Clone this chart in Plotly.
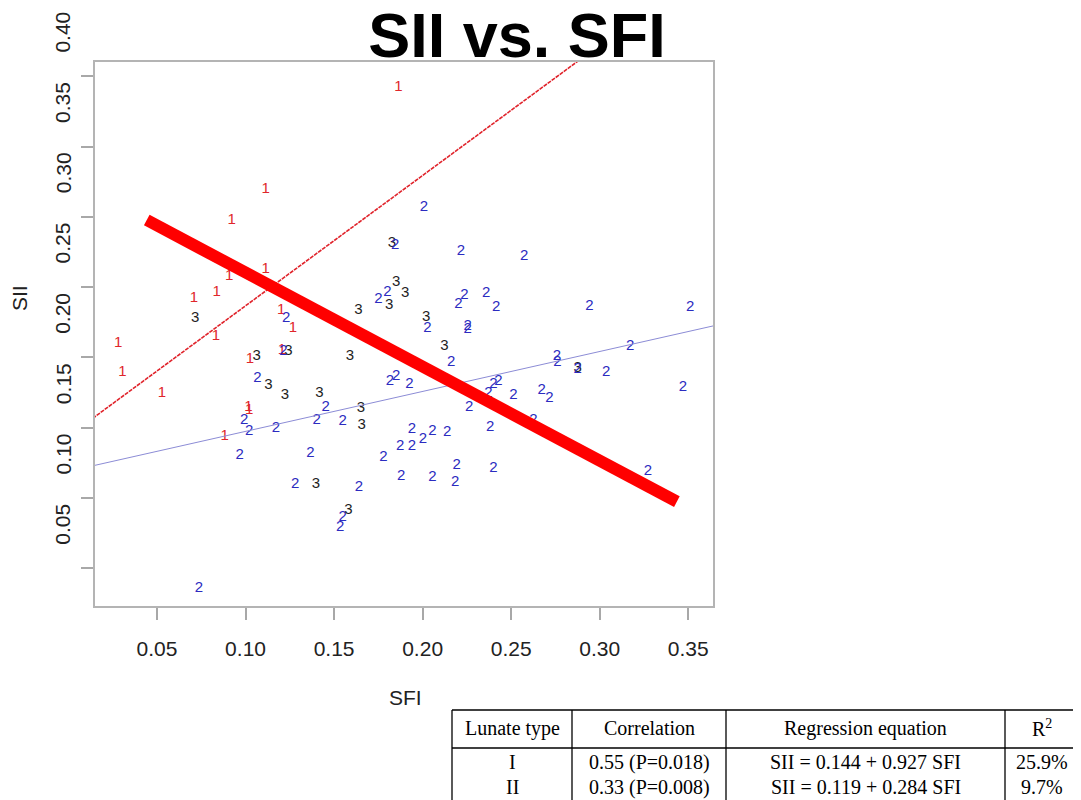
import plotly.graph_objects as go

# ---------------- data ----------------
type1_sfi = [0.1863, 0.1114, 0.0922, 0.1114, 0.0908, 0.0837, 0.0709, 0.1201, 0.1267,
             0.0832, 0.0281, 0.0304, 0.0527, 0.1025, 0.1016, 0.1021, 0.0882, 0.1206]
type1_sii = [0.3925, 0.3198, 0.2977, 0.2627, 0.2574, 0.2460, 0.2420, 0.2337, 0.2207,
             0.2147, 0.2100, 0.1898, 0.1745, 0.1986, 0.1645, 0.1626, 0.1436, 0.2053]

type2_sfi = [0.1845, 0.1750, 0.1801, 0.1229, 0.1214, 0.1067, 0.1453, 0.1402, 0.1549,
             0.0992, 0.1021, 0.1172, 0.0967, 0.1366, 0.1779, 0.1873, 0.1879, 0.1280,
             0.1640, 0.1549, 0.1534, 0.0737, 0.1816, 0.1850, 0.2008, 0.2216, 0.2573,
             0.2236, 0.2202, 0.2359, 0.2415, 0.2942, 0.3511, 0.2027, 0.2255, 0.2255,
             0.2161, 0.2758, 0.2762, 0.2875, 0.3037, 0.3172, 0.3470, 0.1925, 0.2400,
             0.2428, 0.2372, 0.2513, 0.2673, 0.2716, 0.2263, 0.2626, 0.2381, 0.1939,
             0.2055, 0.2138, 0.2001, 0.1939, 0.2193, 0.2184, 0.2400, 0.2055, 0.3272]
type2_sii = [0.2799, 0.2413, 0.2467, 0.2278, 0.2041, 0.1851, 0.1645, 0.1550, 0.1543,
             0.1555, 0.1472, 0.1496, 0.1301, 0.1318, 0.1289, 0.1365, 0.1152, 0.1100,
             0.1076, 0.0863, 0.0792, 0.0358, 0.1827, 0.1863, 0.3065, 0.2757, 0.2723,
             0.2444, 0.2378, 0.2456, 0.2356, 0.2366, 0.2356, 0.2207, 0.2225, 0.2200,
             0.1965, 0.2005, 0.1969, 0.1918, 0.1891, 0.2076, 0.1787, 0.1809, 0.1809,
             0.1834, 0.1745, 0.1733, 0.1768, 0.1709, 0.1645, 0.1555, 0.1503, 0.1491,
             0.1472, 0.1467, 0.1418, 0.1365, 0.1235, 0.1109, 0.1211, 0.1147, 0.1187]

type3_sfi = [0.0715, 0.1826, 0.1850, 0.1901, 0.1811, 0.1637, 0.1063, 0.1242, 0.1590,
             0.1129, 0.1223, 0.1417, 0.1651, 0.1656, 0.1398, 0.1581, 0.2020, 0.2123, 0.2875]
type3_sii = [0.2280, 0.2812, 0.2538, 0.2456, 0.2373, 0.2332, 0.2010, 0.2041, 0.2010,
             0.1804, 0.1733, 0.1745, 0.1642, 0.1514, 0.1100, 0.0915, 0.2285, 0.2081, 0.1922]

# regression lines (from the table)
reg_intercept = [0.144, 0.119]
reg_slope = [0.927, 0.284]

# hand-drawn overall trend line
trend_sfi = [0.0442, 0.3436]
trend_sii = [0.2977, 0.0974]

tick_vals = [0.05, 0.10, 0.15, 0.20, 0.25, 0.30, 0.35, 0.40]
x_tick_vals = [0.05, 0.10, 0.15, 0.20, 0.25, 0.30, 0.35]

table_header = ["Lunate type", "Correlation", "Regression equation", "R<sup>2</sup>"]
table_rows = [
    ["I", "0.55 (P=0.018)", "SII = 0.144 + 0.927 SFI", "25.9%"],
    ["II", "0.33 (P=0.008)", "SII = 0.119 + 0.284 SFI", "9.7%"],
]

# ---------------- layout geometry ----------------
W, H = 1081, 800
OFF = 8  # the page body adds an 8px margin; positions below are picture pixels
L, R, T, B = 95 - OFF, 713 - OFF, 62 - OFF, 606 - OFF
PW, PH = R - L, B - T
x_range = [0.01497, 0.3640]
y_range = [0.0232, 0.4101]
label_shift = 0.031  # y tick labels sit above their ticks in the original


def px(xp):  # picture pixel -> paper x
    return (xp - OFF - L) / PW


def py(yp):  # picture pixel -> paper y
    return 1 - (yp - OFF - T) / PH


def vy(v):  # data y -> paper y
    return (v - y_range[0]) / (y_range[1] - y_range[0])


SANS = "Liberation Sans, Arial, sans-serif"
SERIF = "Liberation Serif, Times New Roman, serif"

fig = go.Figure()


def add_points(xs, ys, label, color):
    fig.add_trace(go.Scatter(
        x=xs, y=ys, mode="text", text=[label] * len(xs),
        textposition="middle center",
        textfont=dict(family=SANS, size=15, color=color),
        showlegend=False, hoverinfo="x+y"))


add_points(type1_sfi, type1_sii, "1", "#e0262b")
add_points(type3_sfi, type3_sii, "3", "#1e1e1e")
add_points(type2_sfi, type2_sii, "2", "#2b2bc0")

# regression lines
line_x = [0.0, 0.4]
fig.add_trace(go.Scatter(
    x=line_x, y=[reg_intercept[0] + reg_slope[0] * v for v in line_x],
    mode="lines", line=dict(color="#e0232b", width=1.6, dash="4px,1px"),
    showlegend=False, hoverinfo="skip"))
fig.add_trace(go.Scatter(
    x=line_x, y=[reg_intercept[1] + reg_slope[1] * v for v in line_x],
    mode="lines", line=dict(color="#8c8cd6", width=1),
    showlegend=False, hoverinfo="skip"))

# thick red trend line
fig.add_trace(go.Scatter(
    x=trend_sfi, y=trend_sii, mode="lines",
    line=dict(color="#ff0000", width=12),
    showlegend=False, hoverinfo="skip"))

fig.update_layout(
    width=W, height=H,
    margin=dict(l=L, r=W - R, t=T, b=H - B, pad=0),
    paper_bgcolor="white", plot_bgcolor="white",
    title=dict(text="<b>SII vs. SFI</b>", x=(517 - OFF) / W, xanchor="center",
               y=1 - (35 - OFF) / H, yanchor="middle",
               font=dict(family=SANS, size=63, color="black")),
    xaxis=dict(range=x_range, tickvals=x_tick_vals,
               ticktext=[f"{v:.2f}" for v in x_tick_vals],
               showgrid=False, zeroline=False, showline=True, mirror=True,
               linecolor="#b4b4b4", linewidth=1.5,
               ticks="outside", ticklen=12, tickcolor="#a8a8a8", tickwidth=1.5,
               tickfont=dict(family=SANS, size=21, color="#222222"),
               ticklabelstandoff=11),
    yaxis=dict(range=y_range, tickvals=tick_vals, showticklabels=False,
               showgrid=False, zeroline=False, showline=True, mirror=True,
               linecolor="#b4b4b4", linewidth=1.5,
               ticks="outside", ticklen=12, tickcolor="#a8a8a8", tickwidth=1.5),
)

annotations = []
# y tick labels (rotated, shifted above their ticks as in the original)
for v in tick_vals:
    annotations.append(dict(
        x=px(63), xref="paper", y=vy(v + label_shift), yref="paper",
        text=f"{v:.2f}", textangle=-90, showarrow=False,
        xanchor="center", yanchor="middle",
        font=dict(family=SANS, size=21, color="#222222")))
# axis titles
annotations.append(dict(x=px(405), y=py(697), xref="paper", yref="paper",
                        text="SFI", showarrow=False, xanchor="center", yanchor="middle",
                        font=dict(family=SANS, size=21, color="#222222")))
annotations.append(dict(x=px(19), y=py(298), xref="paper", yref="paper",
                        text="SII", textangle=-90, showarrow=False,
                        xanchor="center", yanchor="middle",
                        font=dict(family=SANS, size=21, color="#222222")))

# table (drawn with lines and text)
col_edges = [452, 572, 726, 1005, 1078]
tab_top, head_line, tab_bottom = 710, 748, 812
header_y, row_ys = 728, [762, 787]
shapes = []
for yl in (tab_top, head_line):
    shapes.append(dict(type="line", xref="paper", yref="paper",
                       x0=px(col_edges[0]), x1=px(col_edges[-1]), y0=py(yl), y1=py(yl),
                       line=dict(color="black", width=1.3)))
for ce in col_edges:
    shapes.append(dict(type="line", xref="paper", yref="paper",
                       x0=px(ce), x1=px(ce), y0=py(tab_top), y1=py(tab_bottom),
                       line=dict(color="black", width=1.3)))
centers = [(col_edges[i] + col_edges[i + 1]) / 2 for i in range(4)]
for c, txt in zip(centers, table_header):
    annotations.append(dict(x=px(c), y=py(header_y), xref="paper", yref="paper",
                            text=txt, showarrow=False, xanchor="center", yanchor="middle",
                            font=dict(family=SERIF, size=20, color="black")))
for ry, row in zip(row_ys, table_rows):
    for c, txt in zip(centers, row):
        annotations.append(dict(x=px(c), y=py(ry), xref="paper", yref="paper",
                                text=txt, showarrow=False, xanchor="center", yanchor="middle",
                                font=dict(family=SERIF, size=20, color="black")))

fig.update_layout(annotations=annotations, shapes=shapes)
fig.write_html("out.html")
